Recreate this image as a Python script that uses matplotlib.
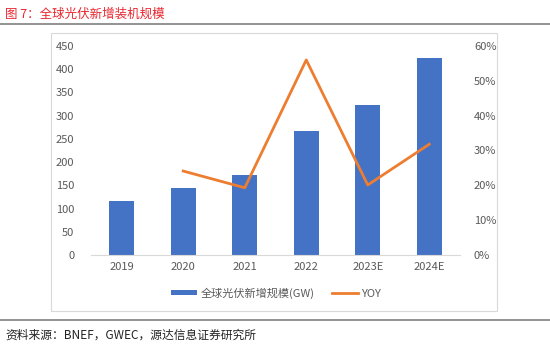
import matplotlib.pyplot as plt
from matplotlib.patches import Rectangle
from matplotlib.lines import Line2D

plt.rcParams['font.family'] = ['Noto Sans CJK SC', 'DejaVu Sans']

years = ["2019", "2020", "2021", "2022", "2023E", "2024E"]
capacity = [116, 144, 172, 267, 322, 424]
yoy_years = ["2020", "2021", "2022", "2023E", "2024E"]
yoy = [0.241, 0.193, 0.56, 0.201, 0.318]

blue = "#4472C4"
orange = "#ED7D31"
grey = "#595959"

fig = plt.figure(figsize=(5.5, 3.49), dpi=100)

# title and frame lines
fig.text(5 / 550, 1 - 14 / 349, "图 7：全球光伏新增装机规模", color="#E8262F",
         fontsize=9, va="center", ha="left")
fig.add_artist(Line2D([0, 1], [1 - 23.5 / 349, 1 - 23.5 / 349], color="#808080", lw=1.2))
fig.add_artist(Line2D([0, 1], [1 - 320 / 349, 1 - 320 / 349], color="#808080", lw=1.2))
fig.add_artist(Rectangle((51 / 550, 1 - 311 / 349), 446 / 550, 278 / 349,
                         fill=False, edgecolor="#D9D9D9", lw=0.8))
fig.text(5 / 550, 1 - 335 / 349, "资料来源：BNEF，GWEC，源达信息证券研究所", color="#222222",
         fontsize=8.5, va="center", ha="left")

ax = fig.add_axes([91 / 550, 1 - 255 / 349, 369 / 550, 209 / 349])
x = list(range(len(years)))
ax.bar(x, capacity, width=0.4, color=blue, label="全球光伏新增规模(GW)", zorder=2)
ax.set_ylim(0, 450)
ax.set_yticks(range(0, 451, 50))
ax.set_xlim(-0.5, len(years) - 0.5)
ax.set_xticks(x)
ax.set_xticklabels(years)

ax2 = ax.twinx()
xi = [years.index(y) for y in yoy_years]
ax2.plot(xi, yoy, color=orange, lw=2, label="YOY", zorder=3)
ax2.set_ylim(0, 0.6)
ax2.set_yticks([i / 10 for i in range(7)])
ax2.set_yticklabels([f"{i * 10}%" for i in range(7)])

for a in (ax, ax2):
    for s in a.spines.values():
        s.set_visible(False)
    a.tick_params(length=0, labelsize=8, labelcolor=grey)
ax.spines["bottom"].set_visible(True)
ax.spines["bottom"].set_color("#D9D9D9")
ax.tick_params(axis="x", pad=5)
ax.tick_params(axis="y", pad=12)
ax2.tick_params(axis="y", pad=10)

h1, l1 = ax.get_legend_handles_labels()
h2, l2 = ax2.get_legend_handles_labels()
leg = fig.legend(h1 + h2, l1 + l2, loc="center", bbox_to_anchor=(276 / 550, 1 - 293 / 349),
                 ncol=2, frameon=False, fontsize=8, handlelength=2.3, handleheight=0.35,
                 columnspacing=1.6, handletextpad=0.3)
for t in leg.get_texts():
    t.set_color(grey)

fig.savefig("out.png", dpi=100)
